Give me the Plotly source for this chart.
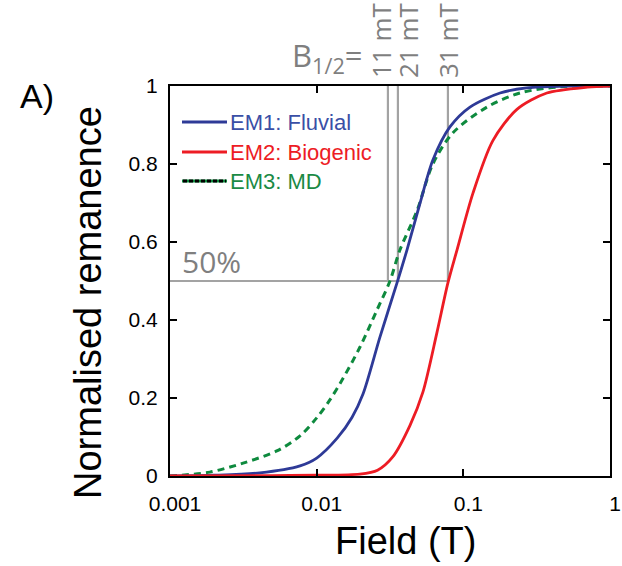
import plotly.graph_objects as go

# ---- data ----
em1_x = [0.001, 0.002, 0.0041, 0.0077, 0.01, 0.0138, 0.0174, 0.0207, 0.027, 0.0353, 0.0413,
         0.0507, 0.062, 0.081, 0.111, 0.178, 0.27, 0.5, 1.0]
em1_y = [0.0, 0.002, 0.008, 0.026, 0.046, 0.097, 0.15, 0.21, 0.356, 0.495, 0.58,
         0.70, 0.81, 0.895, 0.946, 0.982, 0.995, 1.0, 1.0]

em2_x = [0.001, 0.005, 0.01, 0.0197, 0.026, 0.033, 0.0433, 0.053, 0.066, 0.0785, 0.0906,
         0.1165, 0.159, 0.232, 0.371, 0.70, 1.0]
em2_y = [0.0, 0.001, 0.002, 0.005, 0.015, 0.049, 0.13, 0.215, 0.367, 0.495, 0.58,
         0.726, 0.86, 0.94, 0.982, 0.997, 1.0]

em3_x = [0.001, 0.0012, 0.00187, 0.00315, 0.0054, 0.0077, 0.01, 0.0123, 0.0149, 0.0197, 0.0258,
         0.0316, 0.037, 0.0483, 0.062, 0.085, 0.145, 0.243, 0.456, 1.0]
em3_y = [0.0, 0.002, 0.01, 0.033, 0.065, 0.103, 0.149, 0.195, 0.246, 0.33, 0.426,
         0.50, 0.58, 0.68, 0.80, 0.88, 0.946, 0.982, 0.998, 1.0]

b_half_x = [0.0306, 0.0358, 0.0785]
b_half_labels = ["11 mT", "21 mT", "31 mT"]
half_level = 0.5

x_tickvals = [0.001, 0.01, 0.1, 1]
x_ticktext = ["0.001", "0.01", "0.1", "1"]
y_tickvals = [0, 0.2, 0.4, 0.6, 0.8, 1]
y_ticktext = ["0", "0.2", "0.4", "0.6", "0.8", "1"]

names = ["EM1: Fluvial", "EM2: Biogenic", "EM3: MD"]
colors = ["#2E3A97", "#ED1C24", "#0E8A3E"]
text_colors = ["#3A4FA6", "#ED1C24", "#1A8A45"]
grey = "#A3A3A3"
label_grey = "#7F7F7F"
FONT = "Liberation Sans, Arial"
GFONT = "Open Sans"

fig = go.Figure()

# reference lines (50% level and B1/2 markers)
fig.add_trace(go.Scatter(x=[0.001, b_half_x[-1]], y=[half_level, half_level], mode="lines",
                         line=dict(color=grey, width=2.2), showlegend=False, hoverinfo="skip"))
for bx in b_half_x:
    fig.add_trace(go.Scatter(x=[bx, bx], y=[half_level, 1], mode="lines",
                             line=dict(color=grey, width=2.2), showlegend=False, hoverinfo="skip"))

# curves
fig.add_trace(go.Scatter(x=em3_x, y=em3_y, mode="lines", name=names[2],
                         line=dict(color=colors[2], width=3, dash="7px,5px", shape="spline",
                                   smoothing=0.9), showlegend=False))
fig.add_trace(go.Scatter(x=em1_x, y=em1_y, mode="lines", name=names[0],
                         line=dict(color=colors[0], width=2.8, shape="spline", smoothing=0.8),
                         showlegend=False))
fig.add_trace(go.Scatter(x=em2_x, y=em2_y, mode="lines", name=names[1],
                         line=dict(color=colors[1], width=2.8, shape="spline", smoothing=0.8),
                         showlegend=False))

# plot area geometry (pixels)
L, R, T, B = 170, 12, 86, 90
W, H = 622, 566
pw, ph = W - L - R, H - T - B

def px_x(p):
    return (p - L) / pw

def px_y(p):
    return (H - B - p) / ph

annotations = []
shapes = []

# manual legend
leg_y = [122, 152, 181]
for i in range(3):
    y0 = px_y(leg_y[i])
    shapes.append(dict(type="line", xref="paper", yref="paper", x0=px_x(182), x1=px_x(227),
                       y0=y0, y1=y0, line=dict(color=colors[i], width=3)))
    annotations.append(dict(xref="paper", yref="paper", x=px_x(228), y=y0, xanchor="left",
                            yanchor="middle", text=names[i], showarrow=False,
                            font=dict(family=FONT, size=22, color=text_colors[i])))
shapes.append(dict(type="line", xref="paper", yref="paper", x0=px_x(183), x1=px_x(226),
                   y0=px_y(181), y1=px_y(181), line=dict(color="black", width=3, dash="4px,2px")))

# 50% label
annotations.append(dict(xref="paper", yref="paper", x=px_x(180), y=px_y(284), xanchor="left",
                        yanchor="bottom", text="50%", showarrow=False,
                        font=dict(family=GFONT, size=30, color=label_grey)))
# B1/2 labels
label_px = [381, 408, 448]
for lx, t in zip(label_px, b_half_labels):
    annotations.append(dict(xref="paper", yref="paper", x=px_x(lx), y=px_y(80), xanchor="center",
                            yanchor="bottom", text=t, textangle=-90, showarrow=False,
                            font=dict(family=GFONT, size=26, color=label_grey)))
annotations.append(dict(xref="paper", yref="paper", x=px_x(290), y=px_y(82), xanchor="left",
                        yanchor="bottom", text="B<sub>1/2</sub>=", showarrow=False,
                        font=dict(family=GFONT, size=31, color=label_grey)))
# panel label
annotations.append(dict(xref="paper", yref="paper", x=px_x(18), y=px_y(96), xanchor="left",
                        yanchor="middle", text="A)", showarrow=False,
                        font=dict(family=FONT, size=34, color="black")))
# axis titles
annotations.append(dict(xref="paper", yref="paper", x=px_x(405), y=px_y(541), xanchor="center",
                        yanchor="middle", text="Field (T)", showarrow=False,
                        font=dict(family=FONT, size=38, color="black")))
annotations.append(dict(xref="paper", yref="paper", x=px_x(88), y=px_y(303), xanchor="center",
                        yanchor="middle", text="Normalised remanence", textangle=-90,
                        showarrow=False, font=dict(family=FONT, size=38, color="black")))

axis_common = dict(showline=True, linecolor="black", linewidth=2, mirror="ticks",
                   ticks="inside", ticklen=7, tickwidth=2, tickcolor="black",
                   showgrid=False, zeroline=False, automargin=False,
                   tickfont=dict(family=FONT, size=21, color="black"))

fig.update_layout(
    width=W, height=H,
    margin=dict(l=L, r=R, t=T, b=B),
    paper_bgcolor="white", plot_bgcolor="white",
    showlegend=False,
    xaxis=dict(type="log", range=[-3, 0], tickvals=x_tickvals, ticktext=x_ticktext,
               ticklabelstandoff=8, ticklabelshift=5, **axis_common),
    yaxis=dict(range=[0, 1], tickvals=y_tickvals, ticktext=y_ticktext,
               ticklabelstandoff=6, **axis_common),
    annotations=annotations,
    shapes=shapes,
)

fig.write_html("out.html")
